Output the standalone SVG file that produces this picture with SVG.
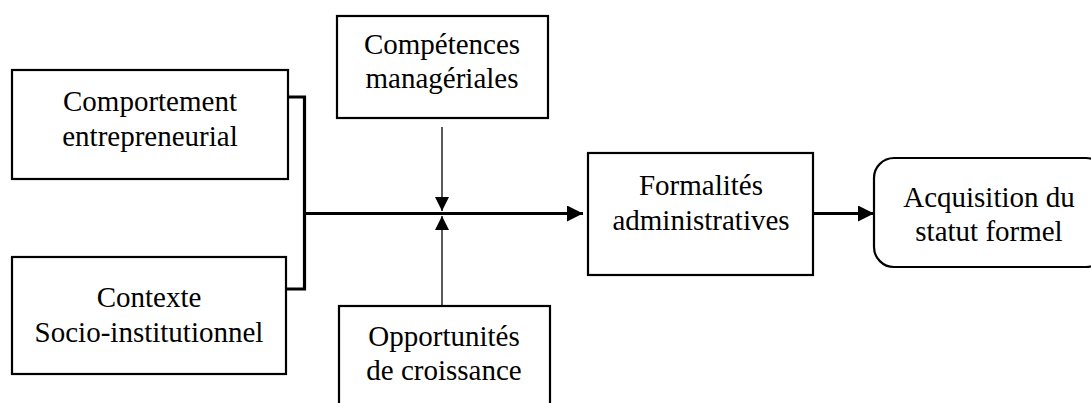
<svg xmlns="http://www.w3.org/2000/svg" width="1091" height="403" viewBox="0 0 1091 403">
<defs>
<style>
.box{fill:#fff;stroke:#000;stroke-width:2.2}
.t{font-family:'Liberation Serif','Times New Roman',serif;font-size:29px;fill:#000;text-anchor:middle}
.thick{stroke:#000;stroke-width:3.2;fill:none}
.thin{stroke:#000;stroke-width:1.3;fill:none}
</style>
<marker id="ah" markerWidth="16" markerHeight="16" viewBox="0 0 16 16" refX="16" refY="8" orient="auto" markerUnits="userSpaceOnUse">
<path d="M0,0 L16,8 L0,16 Z" fill="#000"/>
</marker>
<marker id="ahs" markerWidth="14" markerHeight="14" viewBox="0 0 14 14" refX="14" refY="7" orient="auto" markerUnits="userSpaceOnUse">
<path d="M0,0 L14,7 L0,14 Z" fill="#000"/>
</marker>
</defs>
<rect width="1091" height="403" fill="#fff"/>
<g id="connectors">
<polyline class="thick" points="288,97 304.5,97 304.5,289 286,289"/>
<line class="thick" x1="304.5" y1="213.5" x2="583" y2="213.5" marker-end="url(#ah)"/>
<line class="thin" x1="442" y1="127" x2="442" y2="211" marker-end="url(#ahs)"/>
<line class="thin" x1="442" y1="305" x2="442" y2="216" marker-end="url(#ahs)"/>
<line class="thick" x1="813" y1="213.5" x2="874" y2="213.5" marker-end="url(#ah)"/>
</g>
<g id="n1">
<rect class="box" x="12" y="70" width="276" height="109"/>
<text class="t" x="150" y="111">Comportement</text>
<text class="t" x="150" y="146">entrepreneurial</text>
</g>
<g id="n2">
<rect class="box" x="12" y="257" width="274" height="117"/>
<text class="t" x="149" y="307">Contexte</text>
<text class="t" x="149" y="342">Socio-institutionnel</text>
</g>
<g id="n3">
<rect class="box" x="337" y="16" width="211" height="102"/>
<text class="t" x="442" y="54">Compétences</text>
<text class="t" x="442" y="88">managériales</text>
</g>
<g id="n4">
<rect class="box" x="339" y="306" width="211" height="110"/>
<text class="t" x="444" y="346">Opportunités</text>
<text class="t" x="444" y="380">de croissance</text>
</g>
<g id="n5">
<rect class="box" x="588" y="153" width="225" height="122"/>
<text class="t" x="701" y="195">Formalités</text>
<text class="t" x="701" y="230">administratives</text>
</g>
<g id="n6">
<rect class="box" x="874" y="158" width="232" height="109" rx="20" ry="20"/>
<text class="t" x="989" y="207">Acquisition du</text>
<text class="t" x="989" y="241">statut formel</text>
</g>
</svg>
